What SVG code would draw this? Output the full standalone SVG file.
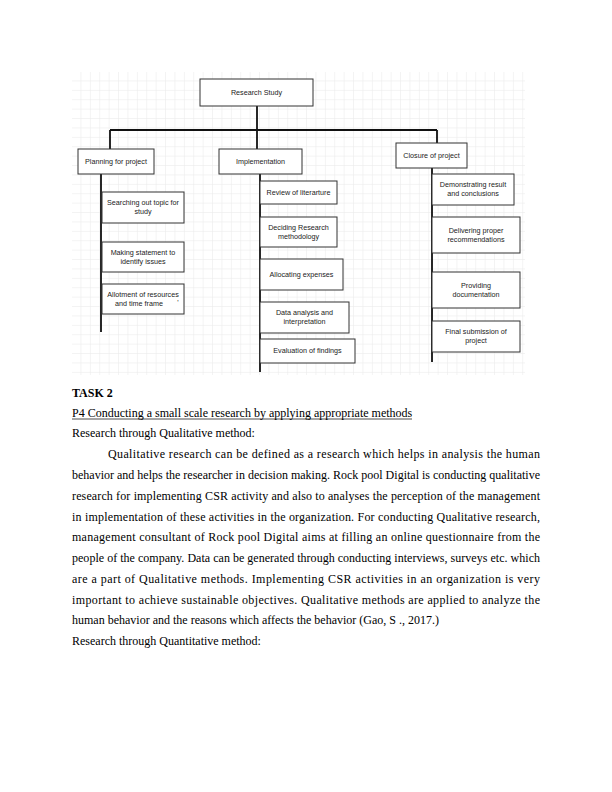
<svg xmlns="http://www.w3.org/2000/svg" width="612" height="792" viewBox="0 0 612 792">
<defs>
<pattern id="grid" width="9.4" height="9.4" patternUnits="userSpaceOnUse" x="72" y="72">
<path d="M9.4 0V9.4H0" fill="none" stroke="#e4e4e4" stroke-width="0.8"/>
</pattern>
</defs>
<style>
.box{fill:#fff;stroke:#333;stroke-width:1}
.bt{font-family:"Liberation Sans",Arial,sans-serif;font-size:7.2px;fill:#222;text-anchor:middle}
.con{stroke:#111;stroke-width:1.8;fill:none}
.body{font-family:"Liberation Serif","Times New Roman",serif;font-size:12px;fill:#000}
</style>
<rect x="0" y="0" width="612" height="792" fill="#fff"/>
<rect x="72" y="72" width="453" height="303" fill="url(#grid)"/>
<g id="connectors">
<path class="con" d="M257 106V130M110 130H437M110 130V149M257 130V149M437 130V143"/>
<path class="con" d="M101 174V332M260 174V372M432 168V362"/>
</g>
<g id="n-research"><rect class="box" x="200" y="79" width="113" height="27"/><text class="bt" x="256.5" y="95">Research Study</text></g>
<g id="n-planning"><rect class="box" x="78" y="149" width="76" height="25"/><text class="bt" x="116" y="164">Planning for project</text></g>
<g id="n-impl"><rect class="box" x="219" y="149" width="83" height="25"/><text class="bt" x="260.5" y="164">Implementation</text></g>
<g id="n-closure"><rect class="box" x="396" y="143" width="71" height="25"/><text class="bt" x="431.5" y="158">Closure of project</text></g>
<g id="n-search"><rect class="box" x="102" y="192" width="82" height="31"/><text class="bt" x="143" y="205">Searching out topic for</text><text class="bt" x="143" y="214">study</text></g>
<g id="n-statement"><rect class="box" x="102" y="242" width="82" height="30"/><text class="bt" x="143" y="255">Making statement to</text><text class="bt" x="143" y="264">identify issues</text></g>
<g id="n-allot"><rect class="box" x="102" y="284" width="82" height="30"/><text class="bt" x="143" y="297">Allotment of resources</text><text class="bt" x="139" y="306">and time frame</text><text class="bt" x="178" y="305">'</text></g>
<g id="n-review"><rect class="box" x="260" y="181" width="77" height="23"/><text class="bt" x="298.5" y="195">Review of literarture</text></g>
<g id="n-deciding"><rect class="box" x="260" y="217" width="77" height="30"/><text class="bt" x="298.5" y="230">Deciding Research</text><text class="bt" x="298.5" y="239">methodology</text></g>
<g id="n-alloc"><rect class="box" x="260" y="259" width="83" height="31"/><text class="bt" x="301.5" y="277">Allocating expenses</text></g>
<g id="n-data"><rect class="box" x="260" y="302" width="89" height="31"/><text class="bt" x="304.5" y="315">Data analysis and</text><text class="bt" x="304.5" y="324">interpretation</text></g>
<g id="n-eval"><rect class="box" x="260" y="339" width="95" height="24"/><text class="bt" x="307.5" y="353">Evaluation of findings</text></g>
<g id="n-demo"><rect class="box" x="432" y="174" width="82" height="31"/><text class="bt" x="473" y="187">Demonstrating result</text><text class="bt" x="473" y="196">and conclusions</text></g>
<g id="n-deliver"><rect class="box" x="432" y="217" width="88" height="36"/><text class="bt" x="476" y="233">Delivering proper</text><text class="bt" x="476" y="242">recommendations</text></g>
<g id="n-doc"><rect class="box" x="432" y="272" width="88" height="36"/><text class="bt" x="476" y="288">Providing</text><text class="bt" x="476" y="297">documentation</text></g>
<g id="n-final"><rect class="box" x="432" y="321" width="88" height="31"/><text class="bt" x="476" y="334">Final submission of</text><text class="bt" x="476" y="343">project</text></g>
<g id="text">
<text class="body" x="72" y="397" font-size="18.7" font-weight="bold">TASK 2</text>
<text class="body" x="72" y="417">P4 Conducting a small scale research by applying appropriate methods</text>
<line x1="72" y1="419" x2="412" y2="419" stroke="#000" stroke-width="0.7"/>
<text class="body" x="72" y="437">Research through Qualitative method:</text>
<text class="body" x="108" y="458" textLength="432" lengthAdjust="spacing">Qualitative research can be defined as a research which helps in analysis the human</text>
<text class="body" x="72" y="479" textLength="468" lengthAdjust="spacing">behavior and helps the researcher in decision making. Rock pool Digital is conducting qualitative</text>
<text class="body" x="72" y="500" textLength="468" lengthAdjust="spacing">research for implementing CSR activity and also to analyses the perception of the management</text>
<text class="body" x="72" y="521" textLength="468" lengthAdjust="spacing">in implementation of these activities in the organization. For conducting Qualitative research,</text>
<text class="body" x="72" y="541" textLength="468" lengthAdjust="spacing">management consultant of Rock pool Digital aims at filling an online questionnaire from the</text>
<text class="body" x="72" y="562" textLength="468" lengthAdjust="spacing">people of the company. Data can be generated through conducting interviews, surveys etc. which</text>
<text class="body" x="72" y="583" textLength="468" lengthAdjust="spacing">are a part of Qualitative methods. Implementing CSR activities in an organization is very</text>
<text class="body" x="72" y="604" textLength="468" lengthAdjust="spacing">important to achieve sustainable objectives. Qualitative methods are applied to analyze the</text>
<text class="body" x="72" y="624">human behavior and the reasons which affects the behavior (Gao, S ., 2017.)</text>
<text class="body" x="72" y="645">Research through Quantitative method:</text>
</g>
</svg>
